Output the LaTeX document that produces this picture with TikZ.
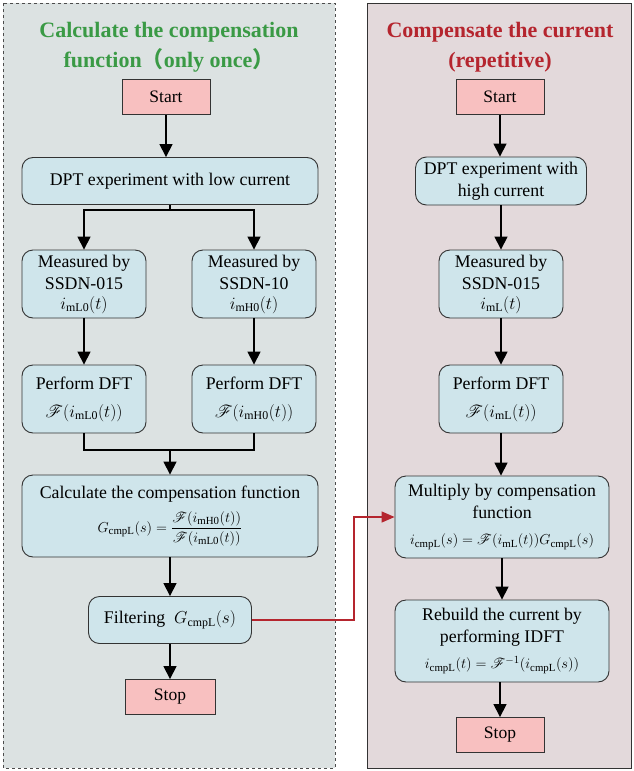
\documentclass[tikz,border=0pt]{standalone}
\usepackage{amsmath}
\usepackage{mathrsfs}
\usepackage{fontspec}
\setmainfont{Liberation Serif}
\newfontfamily\cjk{Noto Sans CJK SC}
\usetikzlibrary{arrows.meta}
\definecolor{leftbg}{HTML}{DCE2E2}
\definecolor{rightbg}{HTML}{E3D9DB}
\definecolor{boxblue}{HTML}{CFE5EB}
\definecolor{pinkbox}{HTML}{F8C0C0}
\definecolor{tgreen}{HTML}{3A9A45}
\definecolor{tred}{HTML}{B5252E}
\definecolor{bord}{HTML}{333333}
\tikzset{
  proc/.style={draw=bord, fill=boxblue, rounded corners=11pt, line width=0.9pt, align=center,
    font=\fontsize{17.8}{22}\selectfont, inner sep=1pt},
  term/.style={draw=bord, fill=pinkbox, line width=0.9pt, font=\fontsize{17.5}{20}\selectfont,
    minimum width=88pt, minimum height=35pt, inner sep=1pt},
  plain line/.style={line width=1.6pt, draw=black},
  flow/.style={plain line, -{Triangle[length=13pt,width=13pt]}},
  redflow/.style={line width=1.3pt, draw=tred, -{Triangle[length=13pt,width=11pt]}},
  ttl/.style={font=\bfseries\fontsize{22}{30}\selectfont, align=center}
}
\newcommand{\sub}[1]{\mathrm{#1}}
\newcommand{\mbig}[1]{{\fontsize{17}{20}\selectfont$#1$}}
\newcommand{\msmall}[1]{{\fontsize{15.5}{18}\selectfont$#1$}}
\begin{document}
\begin{tikzpicture}[x=1pt,y=-1pt]
\useasboundingbox (0,0) rectangle (634,771);
% panels
\draw[dashed, fill=leftbg, draw=black!70, line width=0.8pt] (3,3) rectangle (335,768);
\draw[fill=rightbg, draw=black!80, line width=0.9pt] (367,3) rectangle (631,768);
% titles
\node[ttl, text=tgreen] (t1) at (169,47) {Calculate the compensation\\function{\cjk （}only once{\cjk ）}};
\node[ttl, text=tred] (t2) at (500,47) {Compensate the current\\(repetitive)};
% left column
\node[term] (s1) at (166,97) {Start};
\node[proc, minimum width=296pt, minimum height=47pt] (dpt1) at (170,181) {DPT experiment with low current};
\node[proc, minimum width=124pt, minimum height=68pt] (mL) at (84,284) {Measured by\\SSDN-015\\[-2pt] \mbig{i_{\sub{mL0}}(t)}};
\node[proc, minimum width=124pt, minimum height=68pt] (mH) at (254,284) {Measured by\\SSDN-10\\[-2pt] \mbig{i_{\sub{mH0}}(t)}};
\node[proc, minimum width=124pt, minimum height=68pt] (fL) at (84,399) {Perform DFT\\[6pt] \mbig{\mathscr{F}(i_{\sub{mL0}}(t))}};
\node[proc, minimum width=124pt, minimum height=68pt] (fH) at (254,399) {Perform DFT\\[6pt] \mbig{\mathscr{F}(i_{\sub{mH0}}(t))}};
\node[proc, minimum width=296pt, minimum height=82pt] (calc) at (170,516) {Calculate the compensation function\\[8pt] \msmall{G_{\sub{cmpL}}(s)=\dfrac{\mathscr{F}(i_{\sub{mH0}}(t))}{\mathscr{F}(i_{\sub{mL0}}(t))}}};
\node[proc, minimum width=163pt, minimum height=47pt] (filt) at (170,620) {Filtering\ \ \mbig{G_{\sub{cmpL}}(s)}};
\node[term, minimum width=90pt] (e1) at (170,697) {Stop};
% right column
\node[term] (s2) at (500,97) {Start};
\node[proc, minimum width=171pt, minimum height=48pt] (dpt2) at (501,181) {DPT experiment with\\high current};
\node[proc, minimum width=124pt, minimum height=68pt] (m2) at (501,284) {Measured by\\SSDN-015\\[-2pt] \mbig{i_{\sub{mL}}(t)}};
\node[proc, minimum width=124pt, minimum height=68pt] (f2) at (501,399) {Perform DFT\\[6pt] \mbig{\mathscr{F}(i_{\sub{mL}}(t))}};
\node[proc, minimum width=214pt, minimum height=82pt] (mult) at (502,517) {Multiply by compensation\\function\\[4pt] \msmall{i_{\sub{cmpL}}(s)=\mathscr{F}(i_{\sub{mL}}(t))G_{\sub{cmpL}}(s)}};
\node[proc, minimum width=214pt, minimum height=82pt] (reb) at (502,641) {Rebuild the current by\\performing IDFT\\[4pt] \msmall{i_{\sub{cmpL}}(t)=\mathscr{F}^{-1}(i_{\sub{cmpL}}(s))}};
\node[term] (e2) at (500,735) {Stop};
% connectors left
\coordinate (split) at (170,210);
\coordinate (merge) at (170,450);
\draw[flow] (s1) -- (s1 |- dpt1.north);
\draw[plain line] (dpt1) -- (split);
\draw[flow] (split) -| (mL);
\draw[flow] (split) -| (mH);
\draw[flow] (mL) -- (fL);
\draw[flow] (mH) -- (fH);
\draw[plain line] (fL) |- (merge);
\draw[plain line] (fH) |- (merge);
\draw[flow] (merge) -- (calc);
\draw[flow] (calc) -- (filt);
\draw[flow] (filt) -- (e1);
% connectors right
\draw[flow] (s2) -- (s2 |- dpt2.north);
\draw[flow] (dpt2) -- (m2);
\draw[flow] (m2) -- (f2);
\draw[flow] (f2) -- (f2 |- mult.north);
\draw[flow] (reb |- mult.south) -- (reb);
\draw[flow] (e2 |- reb.south) -- (e2);
% red link
\coordinate (bend) at (354,517);
\draw[redflow] (filt.east) -- (filt.east -| bend) -- (bend) -- (mult.west);
\end{tikzpicture}
\end{document}
